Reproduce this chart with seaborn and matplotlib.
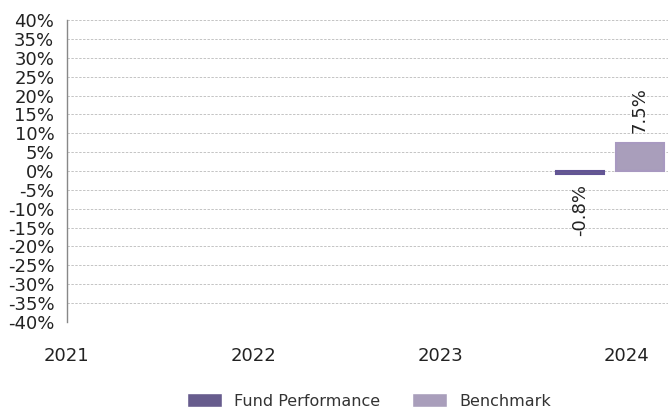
import numpy as np
import pandas as pd
import matplotlib
matplotlib.use('Agg')
import matplotlib.pyplot as plt
import seaborn as sns

years = ['2021', '2022', '2023', '2024']
fund = [np.nan, np.nan, np.nan, -0.8]
benchmark = [np.nan, np.nan, np.nan, 7.5]
series = ['Fund Performance', 'Benchmark']
colors = ['#625495', '#a899c0']
yticks = list(range(-40, 45, 5))

data = pd.DataFrame({
    'year': years * 2,
    'value': fund + benchmark,
    'series': [series[0]] * 4 + [series[1]] * 4,
})

sns.set_style('white')
plt.rcParams['font.family'] = ['DejaVu Sans']

fig = plt.figure(figsize=(6.68, 4.09), dpi=100)
ax = fig.add_axes([0.100, 0.213, 0.905, 0.738])

sns.barplot(data=data, x='year', y='value', hue='series', order=years,
            hue_order=series, palette=colors, width=0.64, gap=0.2,
            ax=ax, legend=True)

# thin outline in the bar colour, like the original
for cont, c in zip(ax.containers, colors):
    for p in cont.patches:
        p.set_edgecolor(c)
        p.set_linewidth(1.5)

# bar labels rotated, outside of the bar ends
for cont in ax.containers:
    labels = ['' if np.isnan(v) else f'{v:.1f}%' for v in cont.datavalues]
    ax.bar_label(cont, labels=labels, rotation=90, padding=7,
                 fontsize=13, color='#222222')

ax.set_ylim(-40, 40)
ax.set_yticks(yticks)
ax.set_yticklabels([f'{t}%' for t in yticks], fontsize=13, color='#222222')
ax.set_xticks([i + 0.09 for i in range(len(years))])
ax.set_xticklabels(years, fontsize=13, color='#222222')
ax.set_xlim(0.09, 3.328)
ax.tick_params(axis='x', length=0, pad=18)
ax.tick_params(axis='y', length=0, pad=9)
ax.set_xlabel('')
ax.set_ylabel('')

for t in yticks[1:]:
    ax.axhline(t, color='#c4c4c4', lw=0.7, ls=(0, (2.5, 1.5)), zorder=0)

for side in ['top', 'right', 'bottom']:
    ax.spines[side].set_visible(False)
ax.spines['left'].set_color('#888888')
ax.spines['left'].set_linewidth(1.0)

ax.legend(loc='center', bbox_to_anchor=(0.5, -0.262), ncol=2, frameon=False,
          fontsize=11.5, handlelength=2.2, handleheight=0.9,
          handletextpad=0.75, columnspacing=2.0, labelcolor='#333333')

fig.savefig('out.png', dpi=100)
